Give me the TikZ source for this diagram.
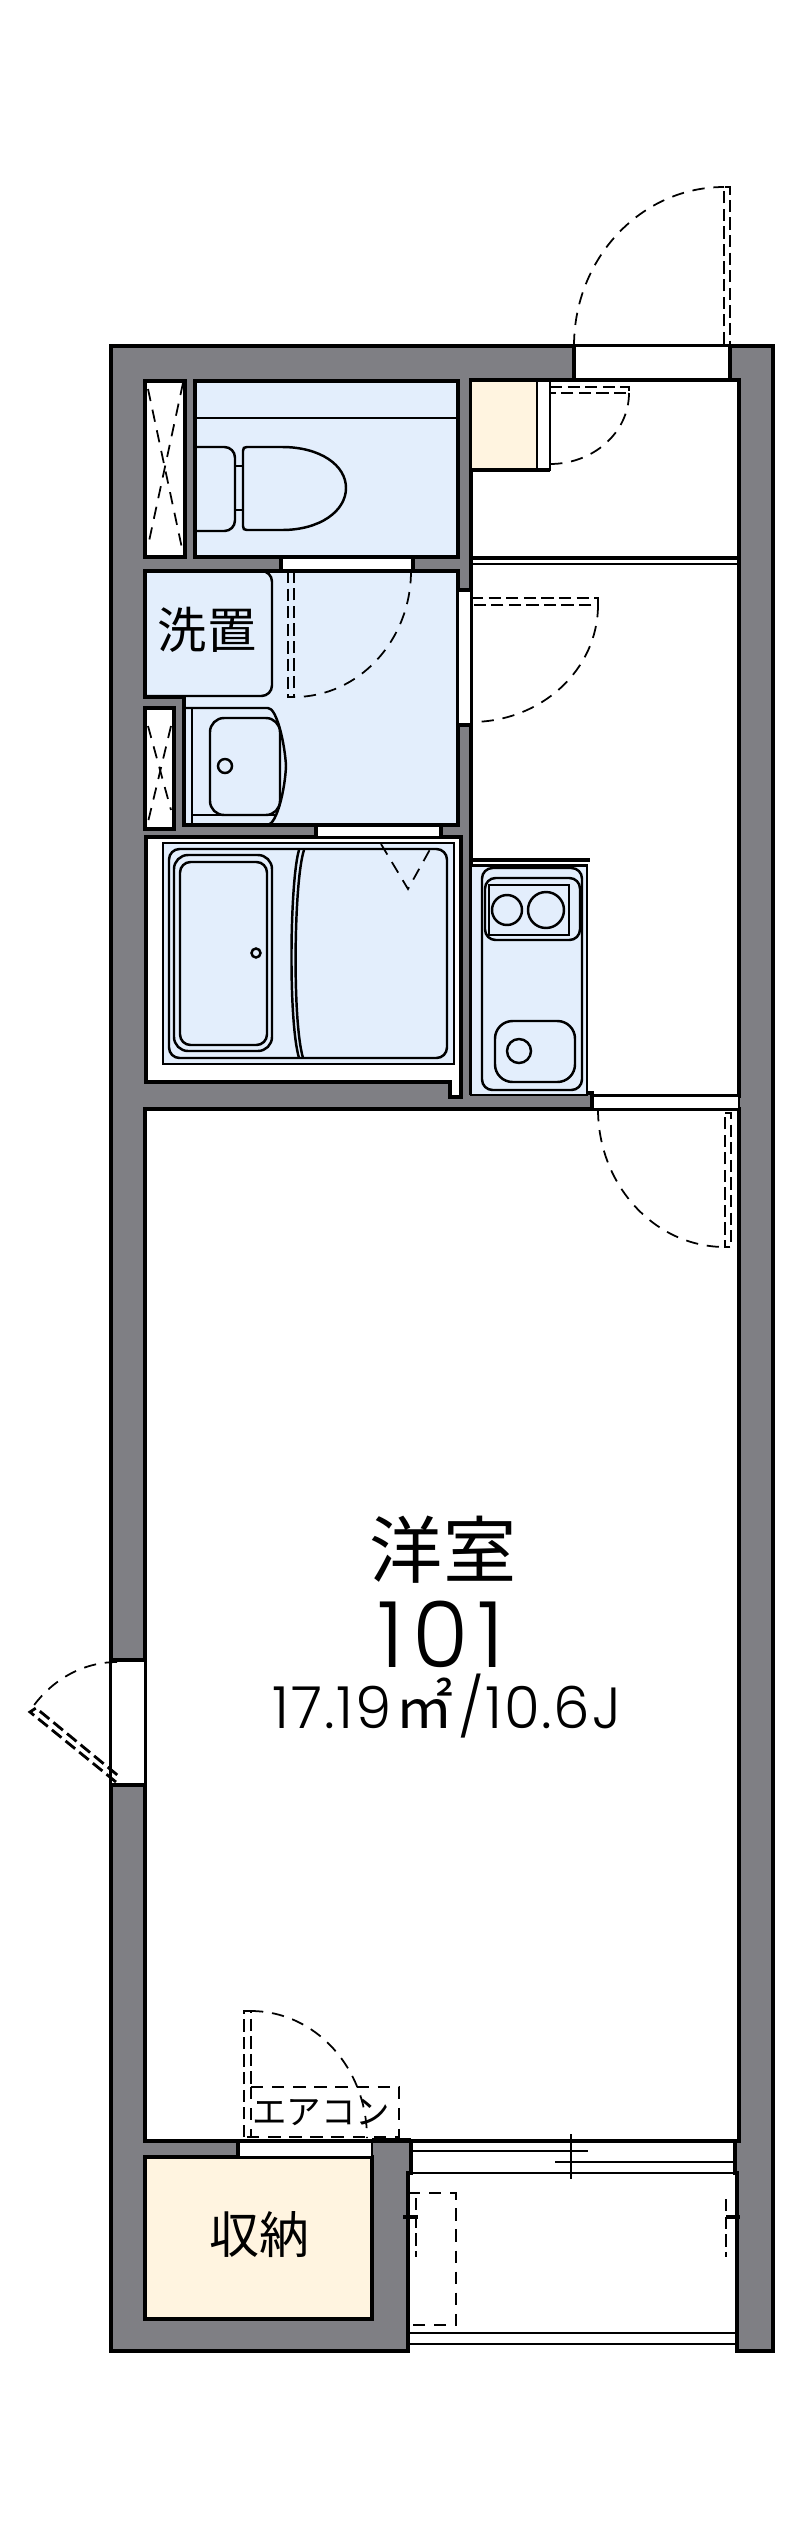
\documentclass[tikz,border=0pt]{standalone}
\usepackage{fontspec}
\newfontfamily\jpfont{Noto Sans CJK JP}
\newfontfamily\numfont[LetterSpace=9]{Poppins Light}
\newfontfamily\areafont[LetterSpace=3]{Poppins Light}
\definecolor{wallgray}{HTML}{7F7F84}
\definecolor{wetblue}{HTML}{E3EEFC}
\definecolor{storecream}{HTML}{FFF4E0}
\tikzset{
	wall/.style={fill=wallgray,draw=black,line width=1pt},
	room/.style={draw=black,line width=1pt},
	gapbox/.style={fill=white,draw=black,line width=0.5pt},
	wallend/.style={draw=black,line width=1.3pt},
	fixture/.style={draw=black,line width=0.7pt},
	swing/.style={draw=black,line width=0.5pt,dash pattern=on 3.5pt off 2.5pt},
	leaf/.style={draw=black,line width=0.8pt,dash pattern=on 3.5pt off 1.5pt},
	jplabel/.style={inner sep=0pt}
}

\begin{document}
\begin{tikzpicture}[x=0.01cm, y=0.01cm, yscale=-1]
		\fill[white] (0,0) rectangle +(800,2539);
		\useasboundingbox (0,0) rectangle +(800,2539);
		
		% shell
		\draw[wall] (111,346) -- (773,346) -- (773,2351) -- (737,2351) -- (737,2173) -- (735,2173) -- (735,2141) -- (411,2141) -- (411,2173) -- (408,2173) -- (408,2351) -- (111,2351) -- cycle;
		
		% rooms
		\draw[room,fill=white] (145,381) rectangle +(40,176);
		\draw[room,fill=wetblue] (195,381) rectangle +(263,176);
		\draw[room,fill=wetblue] (145,571) -- (458,571) -- (458,825) -- (184,825) -- (184,697) -- (145,697) -- cycle;
		\draw[room,fill=white] (145,708) rectangle +(29,121);
		\draw[room,fill=white] (146,837) -- (461,837) -- (461,1097) -- (450,1097) -- (450,1082) -- (146,1082) -- cycle;
		\draw[room,fill=white] (471,380) -- (739,380) -- (739,1096) -- (592,1096) -- (592,1093) -- (471,1093) -- cycle;
		\draw[room,fill=white] (145,1109) rectangle +(594,1032);
		\draw[room,fill=storecream] (145,2157) rectangle +(227,162);
		
		% hall cupboard
		\draw[fixture,fill=storecream] (471,381) rectangle +(66,89);
		\draw[fixture,fill=white] (537,381) rectangle +(13,89);
		\draw[wallend] (471,470) -- (550,470);
		
		% corridor step
		\draw[wallend] (471,558) -- (739,558);
		\draw[fixture] (471,564) -- (739,564);
		
		% openings in the walls
		\draw[gapbox] (574,346) rectangle +(156,34);
		\draw[wallend] (574,346) -- (574,380);
		\draw[wallend] (730,346) -- (730,381);
		\draw[wallend] (574,380) -- (730,380);
		
		\draw[gapbox] (281,558) rectangle +(131,12);
		\draw[wallend] (281,557) -- (281,571);
		\draw[wallend] (413,557) -- (413,571);
		
		\draw[gapbox] (458,590) rectangle +(13,135);
		\draw[wallend] (458,590) -- (471,590);
		\draw[wallend] (458,725) -- (471,725);
		
		\draw[gapbox] (316,826) rectangle +(125,11);
		\draw[wallend] (316,826) -- (316,837);
		\draw[wallend] (441,826) -- (441,837);
		
		\draw[gapbox] (592,1096) rectangle +(147,13);
		\draw[wallend] (592,1093) -- (592,1110);
		
		\draw[gapbox] (111,1660) rectangle +(34,125);
		\draw[wallend] (111,1660) -- (145,1660);
		\draw[wallend] (111,1785) -- (145,1785);
		
		\draw[gapbox] (238,2142) rectangle +(134,15);
		\draw[wallend] (238,2141) -- (238,2157);
		\draw[wallend] (372,2140) -- (411,2140);
		
		% pipe shafts
		\draw[swing] (148,389) -- (183,553);
		\draw[swing] (183,383) -- (148,546);
		\draw[swing] (148,726) -- (171,810);
		\draw[swing] (171,726) -- (148,822);
		
		% toilet
		\draw[fixture] (195,418) -- (458,418);
		\draw[fixture,rounded corners=3pt] (196,447) -- (235,447) -- (235,531) -- (196,531);
		\draw[fixture] (235,466) -- (243,466);
		\draw[fixture] (235,510) -- (243,510);
		\draw[fixture] (247,447) -- (282,447) .. controls (320,447) and (346,465) .. (346,488) .. controls (346,511) and (320,530) .. (282,530) -- (247,530) .. controls (244,530) and (243,529) .. (243,526) -- (243,451) .. controls (243,448) and (244,447) .. (247,447) -- cycle;
		
		% washroom
		\draw[fixture,rounded corners=3pt] (145,571) -- (272,571) -- (272,696) -- (145,696);
		\node[jplabel,font=\jpfont\fontsize{14}{14}\selectfont] (washlabel) at (207,630) {洗置};
		\draw[fixture] (184,708) -- (268,708) .. controls (277,708) and (285,745) .. (286,766) .. controls (285,790) and (277,823) .. (268,825) -- (184,825);
		\draw[fixture] (192,708) -- (192,825);
		\draw[fixture] (192,815) -- (275,815);
		\draw[fixture,rounded corners=4pt] (210,718) rectangle +(70,97);
		\draw[fixture] (225,766) circle[radius=7];
		
		% bath
		\draw[fixture,fill=wetblue] (163,843) rectangle +(291,221);
		\draw[fixture,rounded corners=3pt] (169,849) rectangle +(278,209);
		\draw[fixture,rounded corners=4pt] (174,855) rectangle +(98,196);
		\draw[fixture,rounded corners=3pt] (180,862) rectangle +(87,183);
		\draw[fixture] (256,953) circle[radius=4.5];
		\draw[fixture] (304,850) .. controls (294,880) and (292,1020) .. (303,1058);
		\draw[fixture] (299,850) .. controls (290,880) and (288,1020) .. (299,1058);
		\draw[swing] (381,844) -- (408,889) -- (433,844);
		
		% kitchen
		\draw[fixture,fill=wetblue] (471,865) rectangle +(116,230);
		\draw[wallend] (471,860) -- (590,860);
		\draw[fixture] (471,866) -- (587,866);
		\draw[fixture,rounded corners=3pt] (482,868) rectangle +(100,222);
		\draw[fixture,rounded corners=3pt] (485,878) rectangle +(95,62);
		\draw[fixture] (489,885) rectangle +(80,50);
		\draw[fixture] (507,910) circle[radius=15];
		\draw[fixture] (546,910) circle[radius=18];
		\draw[fixture,rounded corners=5pt] (495,1021) rectangle +(80,61);
		\draw[fixture] (519,1051) circle[radius=12];
		
		% doors
		\draw[leaf] (724,344) -- (724,187) -- (730,187) -- (730,344);
		\draw[swing] (574,346) arc[start angle=180,end angle=270,x radius=150,y radius=159];
		\draw[leaf] (550,387) -- (629,387) -- (629,393) -- (550,393);
		\draw[swing] (629,393) arc[start angle=0,end angle=90,x radius=79,y radius=71];
		\draw[leaf] (471,598) -- (598,598) -- (598,605) -- (471,605);
		\draw[swing] (598,605) arc[start angle=0,end angle=90,x radius=127,y radius=117];
		\draw[leaf] (288,571) -- (288,697) -- (294,697) -- (294,571);
		\draw[swing] (411,571) arc[start angle=0,end angle=90,x radius=117,y radius=126];
		\draw[leaf] (725,1113) -- (731,1113) -- (731,1247) -- (725,1247) -- cycle;
		\draw[swing] (598,1109) arc[start angle=180,end angle=90,x radius=127,y radius=138];
		\draw[leaf] (116,1782) -- (30,1712) -- (36,1708) -- (121,1778);
		\draw[swing] (117,1662) arc[start angle=270,end angle=217,x radius=108,y radius=120];
		\draw[leaf] (244,2137) -- (244,2011) -- (251,2011) -- (251,2087);
		\draw[swing] (251,2011) arc[start angle=270,end angle=360,x radius=116,y radius=127];
		
		% air conditioner box
		\draw[swing] (251,2087) -- (399,2087) -- (399,2137) -- (244,2137);
		\draw[swing] (251,2087) -- (251,2137);
		\node[jplabel,font=\jpfont\fontsize{9.8}{10}\selectfont] (aclabel) at (321,2112) {エアコン};
		
		% closet label
		\node[jplabel,font=\jpfont\fontsize{14.2}{15}\selectfont] (storelabel) at (259,2235) {収納};
		
		% balcony
		\draw[fixture] (411,2141) -- (737,2141);
		\draw[fixture] (411,2151) -- (588,2151);
		\draw[fixture] (555,2162) -- (735,2162);
		\draw[fixture] (407,2173) -- (737,2173);
		\draw[fixture] (571,2134) -- (571,2179);
		\draw[fixture] (407,2333) -- (737,2333);
		\draw[fixture] (407,2344) -- (737,2344);
		\draw[swing] (408,2193) -- (456,2193) -- (456,2325) -- (408,2325);
		\draw[leaf] (416,2198) -- (416,2257);
		\draw[wallend] (403,2217) -- (418,2217);
		\draw[leaf] (726,2199) -- (726,2257);
		\draw[wallend] (726,2217) -- (740,2217);
		
		% room text
		\node[jplabel,font=\jpfont\fontsize{20.8}{21}\selectfont] (roomlabel) at (443,1550) {洋室};
		\node[inner sep=0pt,font=\numfont\fontsize{26}{26}\selectfont] (numlabel) at (441,1634) {101};
		\node[inner sep=0pt,font=\areafont\fontsize{16.5}{17}\selectfont] (arealabel) at (447,1706) {17.19\kern1.2pt{\jpfont ㎡}\kern1.2pt/10.6J};
\end{tikzpicture}
\end{document}
